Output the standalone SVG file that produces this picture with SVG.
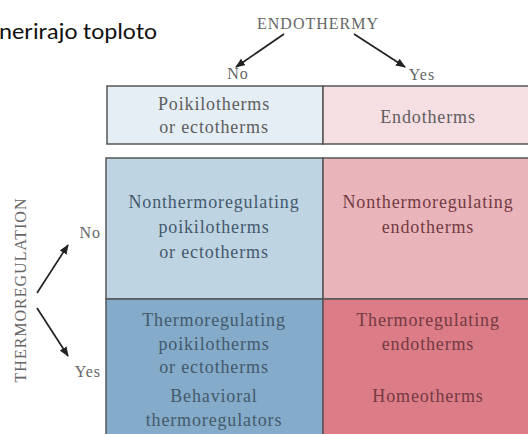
<svg xmlns="http://www.w3.org/2000/svg" width="528" height="434" viewBox="0 0 528 434">
<style>
.lbl{font-family:"Liberation Serif","Times New Roman",serif;fill:#666;font-size:16px;letter-spacing:1px}
.cell{font-family:"Liberation Serif","Times New Roman",serif;font-size:18px;letter-spacing:0.85px;text-anchor:middle}
.tb{fill:#5e5e5e}
.bl{fill:#45596b}
.pk{fill:#733a43}
.box{stroke:#555;stroke-width:1.5}
.arr{stroke:#222;stroke-width:1.7;fill:none;marker-end:url(#ah)}
</style>
<defs>
<marker id="ah" viewBox="0 0 10 8" refX="9" refY="4" markerWidth="10" markerHeight="8" markerUnits="userSpaceOnUse" orient="auto">
<path d="M0,0 L10,4 L0,8 Z" fill="#222"/>
</marker>
</defs>
<rect width="528" height="434" fill="#fff"/>
<text x="-1" y="39" font-family="Carlito,'Open Sans','Liberation Sans',sans-serif" font-size="22" textLength="158" lengthAdjust="spacingAndGlyphs" fill="#111">nerirajo toploto</text>

<g id="endothermy">
<text class="lbl" x="318" y="29" text-anchor="middle">ENDOTHERMY</text>
<text class="lbl" x="238" y="79" text-anchor="middle" font-size="15">No</text>
<text class="lbl" x="422" y="80" text-anchor="middle" font-size="15">Yes</text>
</g>
<g id="thermoregulation">
<text class="lbl" transform="translate(26,290) rotate(-90)" text-anchor="middle">THERMOREGULATION</text>
<text class="lbl" x="101" y="238" text-anchor="end" font-size="15">No</text>
<text class="lbl" x="101" y="377" text-anchor="end" font-size="15">Yes</text>
</g>

<g id="poikilotherms">
<rect class="box" x="107" y="86" width="216" height="58" fill="#e5edf5"/>
<text class="cell tb" x="214" y="110">Poikilotherms</text>
<text class="cell tb" x="214" y="133">or ectotherms</text>
</g>
<g id="endotherms">
<rect class="box" x="323" y="86" width="215" height="58" fill="#f6dfe2"/>
<text class="cell tb" x="428" y="123">Endotherms</text>
</g>
<g id="nonthermo-poikilo">
<rect class="box" x="106" y="158" width="217" height="141" fill="#bed4e3"/>
<text class="cell bl" x="214" y="208">Nonthermoregulating</text>
<text class="cell bl" x="214" y="233">poikilotherms</text>
<text class="cell bl" x="214" y="258">or ectotherms</text>
</g>
<g id="nonthermo-endo">
<rect class="box" x="323" y="158" width="215" height="141" fill="#e9b5bb"/>
<text class="cell pk" x="428" y="208">Nonthermoregulating</text>
<text class="cell pk" x="428" y="233">endotherms</text>
</g>
<g id="thermo-poikilo">
<rect class="box" x="106" y="299" width="217" height="145" fill="#84abc9"/>
<text class="cell bl" x="214" y="326">Thermoregulating</text>
<text class="cell bl" x="214" y="350">poikilotherms</text>
<text class="cell bl" x="214" y="373">or ectotherms</text>
<text class="cell bl" x="214" y="402">Behavioral</text>
<text class="cell bl" x="214" y="426">thermoregulators</text>
</g>
<g id="thermo-endo">
<rect class="box" x="323" y="299" width="215" height="145" fill="#dc7c87"/>
<text class="cell pk" x="428" y="326">Thermoregulating</text>
<text class="cell pk" x="428" y="350">endotherms</text>
<text class="cell pk" x="428" y="402">Homeotherms</text>
</g>

<g id="connectors">
<line class="arr" x1="284" y1="34" x2="236" y2="67"/>
<line class="arr" x1="354" y1="34" x2="405" y2="67"/>
<line class="arr" x1="37" y1="293" x2="68" y2="245"/>
<line class="arr" x1="37" y1="308" x2="68" y2="356"/>
</g>
</svg>
